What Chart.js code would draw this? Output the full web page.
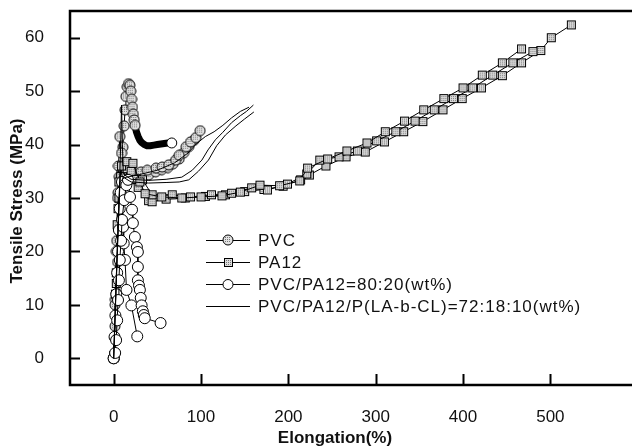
<!DOCTYPE html>
<html>
<head>
<meta charset="utf-8">
<script src="https://cdn.jsdelivr.net/npm/chart.js@4.4.1/dist/chart.umd.min.js"></script>
<style>
  body { margin: 0; background: #fff; }
</style>
</head>
<body>
<canvas id="stressChart" width="632" height="448"></canvas>
<script>
// tick labels
var xTicks = [0, 100, 200, 300, 400, 500];
var yTicks = [0, 10, 20, 30, 40, 50, 60];

// legend names
var seriesNames = ["PVC", "PA12", "PVC/PA12=80:20(wt%)", "PVC/PA12/P(LA-b-CL)=72:18:10(wt%)"];

// PVC, three specimens
var pvcAx = [0, 1.5, 3, 4.5, 6, 7.5, 9, 10.5, 12, 13, 14, 15.5, 17, 18.5, 19.5, 20.5, 21.5, 22.5, 23.5, 24.5, 26, 28, 30, 32, 35, 38, 42, 46, 50, 54, 58, 62, 66.5];
var pvcAy = [0, 6, 12, 18, 24, 30, 35, 39.5, 43.5, 46.5, 49, 50.8, 51.4, 51.1, 50, 48.5, 47, 45.7, 44.6, 43.6, 42.4, 41.5, 40.8, 40.4, 40, 39.8, 39.8, 39.9, 40, 40.1, 40.2, 40.3, 40.3];
var pvcBx = [0, 1.5, 3, 4.5, 5.5, 7, 9, 11, 14, 18, 24, 31.5, 38.5, 48.5, 55.5, 63, 71, 75, 83, 88, 94, 99];
var pvcBy = [0, 10, 20, 30, 36, 41.5, 38.4, 35.5, 34.7, 34.5, 34.6, 34.9, 35.2, 35.6, 35.8, 36.2, 37.1, 38, 39.6, 40.5, 41.3, 42.6];
var pvcCx = [0, 2, 3.5, 5, 6.5, 9, 13, 18, 25, 32, 40, 48, 55, 62, 68, 75, 80, 86, 92];
var pvcCy = [0, 11, 22, 31, 34, 34.2, 33.6, 33.4, 33.5, 33.8, 34.3, 34.9, 35.3, 35.7, 36.4, 37.3, 38.4, 39.6, 40.8];

// PA12, three specimens
var paAx = [0, 2, 4, 6, 9, 15, 22, 30, 36, 55, 78, 100, 124, 145, 167.5, 190, 213, 222, 245, 267, 290, 311, 333, 355, 378, 400, 422, 445, 467];
var paAy = [0, 12, 25, 33, 36, 36.8, 36.5, 33, 30.8, 30.2, 30, 30.2, 30.4, 31.1, 32.4, 32.3, 33.2, 35.6, 37.3, 38.8, 40.3, 42.4, 44.4, 46.5, 48.6, 50.6, 53, 55.3, 57.9];
var paBx = [0, 3, 5, 8, 14, 20, 26, 33, 44, 67, 88, 112, 135, 158, 176, 199, 221, 236, 258, 279, 301, 323, 345, 367, 389, 411, 434, 457, 480];
var paBy = [0, 14, 28, 34, 35.5, 35, 33.5, 33.4, 30.6, 30.6, 30.2, 30.6, 30.9, 31.9, 31.5, 32.6, 34.5, 37.1, 37.7, 38.8, 40.7, 42.4, 44.4, 46.5, 48.6, 50.6, 53, 55.3, 57.4];
var paCx = [0, 3, 6, 10, 18, 28, 40, 44, 60, 82, 105, 128, 150, 172, 194, 214, 224, 243, 266, 288, 310, 332, 354, 377, 399, 421, 445, 467, 489, 501, 524];
var paCy = [0.5, 16, 30, 34, 33.6, 32, 29.5, 29.3, 29.8, 30, 30.3, 30.6, 31.2, 31.6, 32.2, 33.4, 34.3, 36, 37.7, 38.6, 40.5, 42.4, 44.3, 46.5, 48.6, 50.6, 52.9, 55.3, 57.6, 60, 62.4];

// PVC/PA12 80:20, two specimens
var mixAx = [0, 1.7, 2.8, 4, 5, 6, 7, 8.5, 9.6, 12, 14.5, 16.4, 18.7, 21, 22, 24.3, 26.6, 27.7, 27.7, 27.7, 29, 30, 31, 32, 33.4, 34.5, 35.6, 53.7];
var mixAy = [0, 1, 3.4, 7.1, 10.9, 14.6, 18.4, 22, 25.9, 29.6, 32.4, 33.4, 30.2, 27.8, 25.3, 22.7, 20.8, 19.9, 17.1, 14.6, 13.6, 12.8, 11.3, 9.9, 8.8, 8.1, 7.5, 6.6];
var mixBx = [0, 1, 2, 3, 4, 5, 6, 7, 8, 9.5, 10.7, 11.5, 13, 14.7, 20.3, 27];
var mixBy = [0, 4, 8, 12, 16, 20, 24, 28, 31, 33, 24.6, 21.5, 18.4, 12.8, 9.9, 4.1];

// PVC/PA12/P(LA-b-CL) 72:18:10, three specimens
var blendAx = [0, 3, 6, 8, 9, 10, 11, 20, 40, 60, 78, 90, 101, 108, 116.5, 125, 135, 145, 152, 160];
var blendAy = [0, 14, 28, 40, 47.4, 40, 34.5, 33.5, 33.3, 33.5, 33.9, 35.2, 37.1, 39, 40.9, 42.3, 44.1, 45.4, 46.2, 47.4];
var blendBx = [0, 3, 6, 8, 10, 20, 40, 60, 75, 86, 97, 108.5, 118, 128, 140, 150, 160.5];
var blendBy = [0, 15, 29, 35, 34, 33, 32.8, 32.9, 33, 33.4, 35, 37.1, 39.8, 41.8, 43.5, 44.8, 46.1];
var blendCx = [0, 4, 7, 12, 30, 50, 70, 85, 95, 105, 115, 125, 135, 145, 155];
var blendCy = [0, 20, 33, 33.8, 34.4, 35.2, 36.6, 38.4, 40.2, 41.5, 42.4, 43.6, 45, 46.2, 47];

function pts(xs, ys) {
  return xs.map(function (v, i) { return { x: v, y: ys[i] }; });
}

var FONT = '"Liberation Sans", Arial, sans-serif';

// marker images
function dottedCircle() {
  var c = document.createElement('canvas');
  c.width = 12; c.height = 12;
  var g = c.getContext('2d');
  g.beginPath(); g.arc(6, 6, 5, 0, Math.PI * 2);
  g.fillStyle = '#e2e2e2'; g.fill();
  g.fillStyle = '#777';
  for (var i = 3; i <= 8; i += 2) for (var j = 3; j <= 8; j += 2) g.fillRect(i, j, 1, 1);
  g.strokeStyle = '#000'; g.lineWidth = 1; g.stroke();
  return c;
}
function dottedSquare() {
  var c = document.createElement('canvas');
  c.width = 11; c.height = 11;
  var g = c.getContext('2d');
  g.fillStyle = '#dcdcdc'; g.fillRect(1, 1, 9, 9);
  g.fillStyle = '#777';
  for (var i = 3; i <= 8; i += 2) for (var j = 3; j <= 8; j += 2) g.fillRect(i, j, 1, 1);
  g.strokeStyle = '#000'; g.lineWidth = 1; g.strokeRect(1.5, 1.5, 8, 8);
  return c;
}
var circImg = dottedCircle();
var sqImg = dottedSquare();

var bandFrom = 20;  // PVC tail where the markers pile into a thick band

function lineSet(data, extra) {
  var d = {
    data: data, borderColor: '#000', borderWidth: 1, showLine: true,
    pointRadius: 0, pointHoverRadius: 0, fill: false, tension: 0
  };
  for (var k in extra) d[k] = extra[k];
  return d;
}

var openCircle = { pointStyle: 'circle', pointRadius: 5.5, pointBackgroundColor: '#fff', pointBorderColor: '#000', pointBorderWidth: 1 };

var datasets = [
  lineSet(pts(blendAx, blendAy), {}),
  lineSet(pts(blendBx, blendBy), {}),
  lineSet(pts(blendCx, blendCy), {}),
  lineSet(pts(mixAx, mixAy), openCircle),
  lineSet(pts(mixBx, mixBy), openCircle),
  lineSet(pts(paAx, paAy), { pointStyle: sqImg, pointRadius: 5 }),
  lineSet(pts(paBx, paBy), { pointStyle: sqImg, pointRadius: 5 }),
  lineSet(pts(paCx, paCy), { pointStyle: sqImg, pointRadius: 5 }),
  lineSet(pts(pvcBx, pvcBy), { pointStyle: circImg, pointRadius: 5 }),
  lineSet(pts(pvcCx, pvcCy), { pointStyle: circImg, pointRadius: 5 }),
  lineSet(pts(pvcAx, pvcAy), {
    pointStyle: function (c) { return c.dataIndex === pvcAx.length - 1 ? 'circle' : circImg; },
    pointRadius: function (c) { return (c.dataIndex >= bandFrom && c.dataIndex < pvcAx.length - 1) ? 0 : 5; },
    pointBackgroundColor: '#fff', pointBorderColor: '#000', pointBorderWidth: 1,
    segment: { borderWidth: function (c) { return c.p0DataIndex >= bandFrom - 1 ? 7 : 1; } },
    borderCapStyle: 'round'
  })
];

var frame = {
  id: 'frame',
  afterDraw: function (chart) {
    var ctx = chart.ctx, a = chart.chartArea, xs = chart.scales.x, ys = chart.scales.y;
    ctx.save();
    ctx.strokeStyle = '#000';
    ctx.lineWidth = 2.5;
    ctx.beginPath();
    ctx.moveTo(632, a.top); ctx.lineTo(a.left, a.top);
    ctx.lineTo(a.left, a.bottom); ctx.lineTo(632, a.bottom);
    ctx.stroke();
    ctx.lineWidth = 2;
    ctx.beginPath();
    xTicks.forEach(function (v) {
      var px = Math.round(xs.getPixelForValue(v)) + 0.5;
      ctx.moveTo(px, a.bottom); ctx.lineTo(px, a.bottom - 11);
    });
    yTicks.forEach(function (v) {
      var py = Math.round(ys.getPixelForValue(v)) + 0.5;
      ctx.moveTo(a.left, py); ctx.lineTo(a.left + 10, py);
    });
    ctx.stroke();

    // axis titles
    ctx.fillStyle = '#111';
    ctx.font = 'bold 17px ' + FONT;
    ctx.textAlign = 'center'; ctx.textBaseline = 'middle';
    ctx.fillText('Elongation(%)', 335, 438);
    ctx.translate(17, 201); ctx.rotate(-Math.PI / 2);
    ctx.fillText('Tensile Stress (MPa)', 0, 0);
    ctx.restore();

    // legend
    ctx.save();
    ctx.font = '17px ' + FONT;
    ctx.letterSpacing = '1px';
    ctx.textAlign = 'left'; ctx.textBaseline = 'middle';
    ctx.fillStyle = '#111';
    var rows = [240, 262, 284, 306];
    rows.forEach(function (ry, i) {
      ctx.strokeStyle = '#000'; ctx.lineWidth = 1;
      ctx.beginPath(); ctx.moveTo(206, ry + 0.5); ctx.lineTo(250, ry + 0.5); ctx.stroke();
      if (i === 0) ctx.drawImage(circImg, 222, ry - 6);
      if (i === 1) ctx.drawImage(sqImg, 223, ry - 5);
      if (i === 2) {
        ctx.beginPath(); ctx.arc(228, ry + 0.5, 5, 0, Math.PI * 2);
        ctx.fillStyle = '#fff'; ctx.fill(); ctx.stroke();
        ctx.fillStyle = '#111';
      }
      ctx.fillText(seriesNames[i], 258, ry + 1);
    });
    ctx.restore();
  }
};

new Chart(document.getElementById('stressChart'), {
  type: 'scatter',
  data: { datasets: datasets },
  options: {
    responsive: false,
    animation: false,
    devicePixelRatio: 1,
    layout: { padding: { top: 11, right: 0, left: 0, bottom: 0 } },
    plugins: { legend: { display: false }, tooltip: { enabled: false } },
    scales: {
      x: {
        type: 'linear', min: -50, max: 586,
        grid: { display: false }, border: { display: false },
        afterBuildTicks: function (s) { s.ticks = xTicks.map(function (v) { return { value: v }; }); },
        afterFit: function (s) { s.height = 63; s.paddingLeft = 0; s.paddingRight = 0; },
        ticks: { color: '#111', padding: 14, maxRotation: 0, font: { size: 17, family: FONT } }
      },
      y: {
        type: 'linear', min: -5, max: 65,
        grid: { display: false }, border: { display: false },
        afterBuildTicks: function (s) { s.ticks = yTicks.map(function (v) { return { value: v }; }); },
        afterFit: function (s) { s.width = 70; s.paddingTop = 0; s.paddingBottom = 0; },
        ticks: { color: '#111', padding: 18, font: { size: 17, family: FONT } }
      }
    }
  },
  plugins: [frame]
});
</script>
</body>
</html>
